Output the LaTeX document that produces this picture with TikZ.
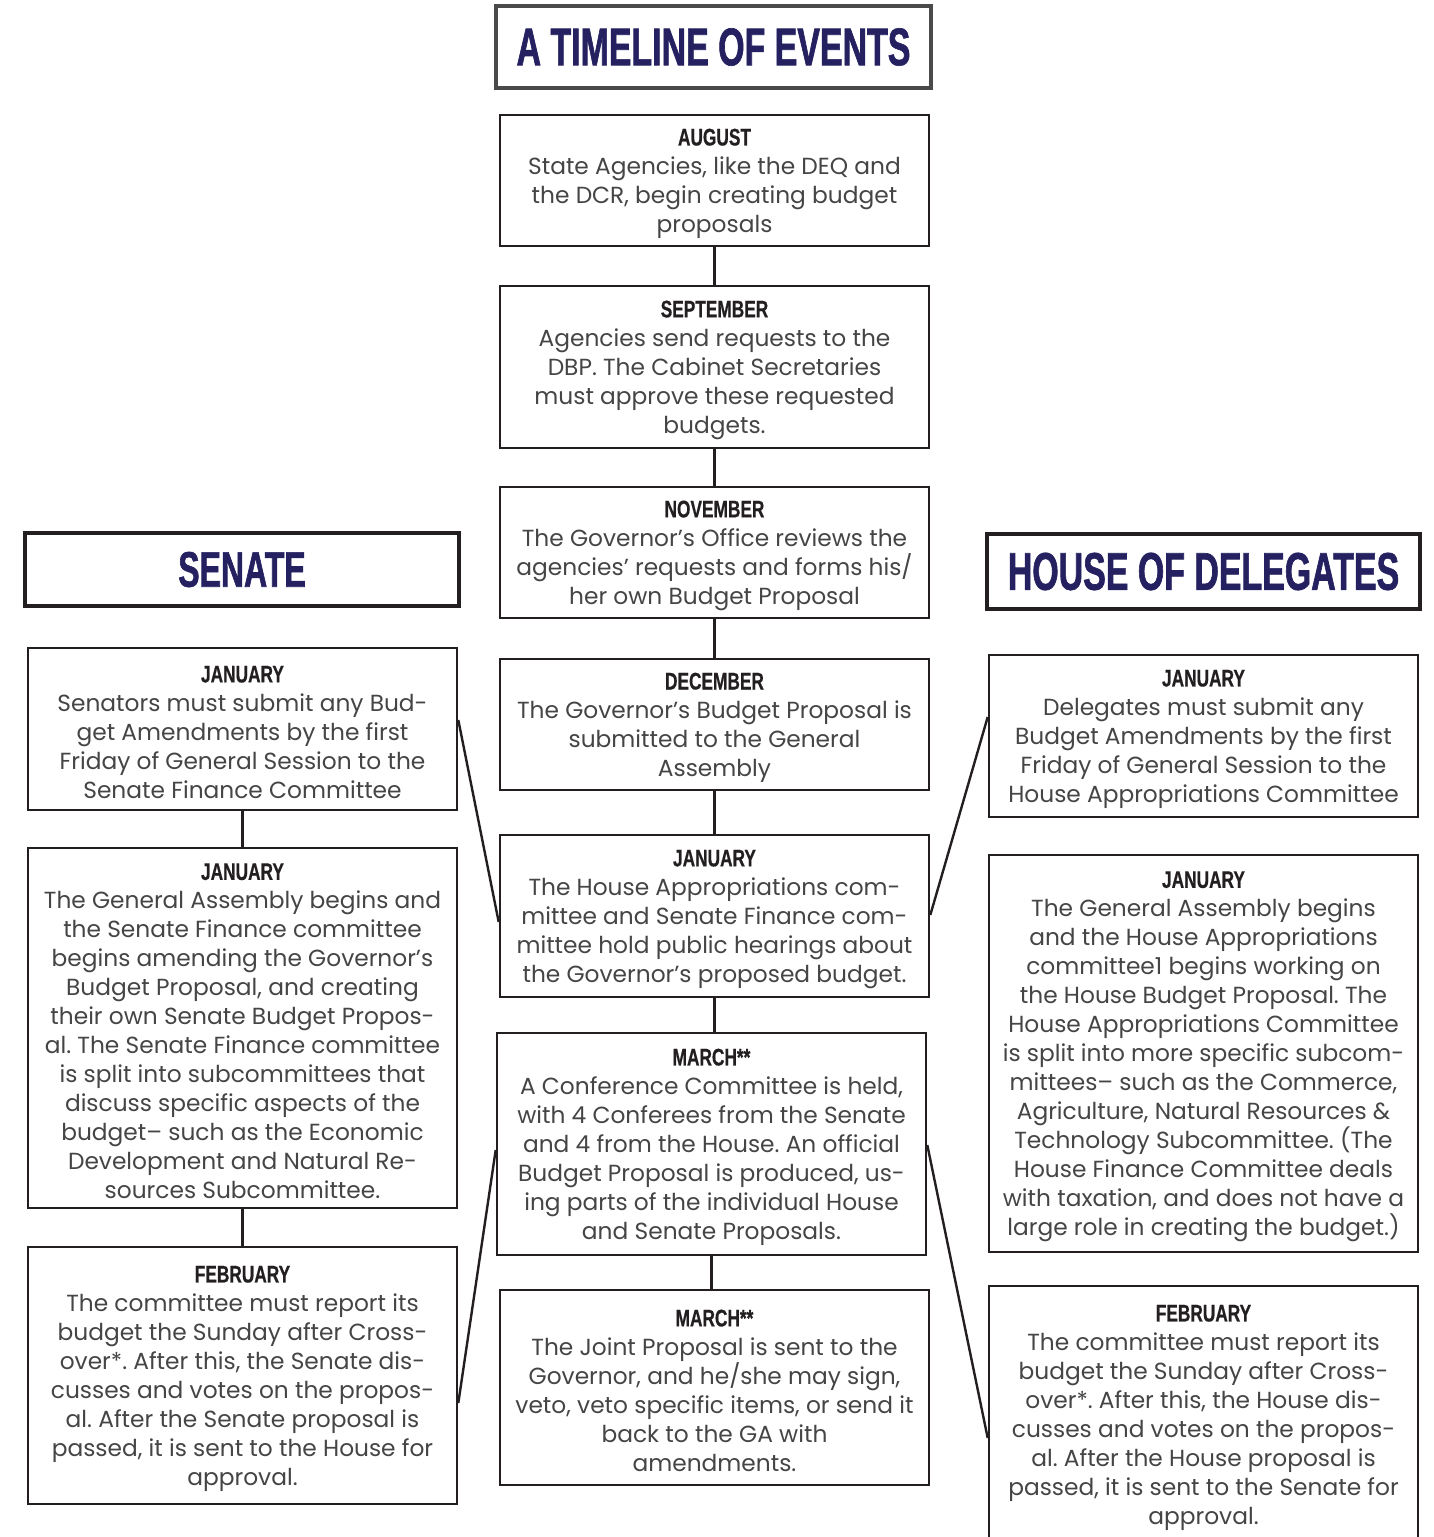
\documentclass[tikz,border=0pt]{standalone}
\usepackage{fontspec}
\setmainfont{Poppins}
\frenchspacing
\newfontfamily\monfont[FakeStretch=0.72,FakeBold=0.6]{Liberation Sans}
\newfontfamily\bigfont[FakeStretch=0.64,FakeBold=1.2]{Liberation Sans}
\definecolor{navy}{HTML}{252160}
\definecolor{ink}{HTML}{231F20}
\definecolor{bodygray}{HTML}{454545}
\definecolor{framegray}{HTML}{4A4A4A}
\newcommand\bxfont{\fontsize{23.3}{29}\selectfont}
\newcommand\monthlabel[1]{\rule{0pt}{23pt}{\fontsize{24}{29}\selectfont\monfont\bfseries\color{ink}#1}}
\tikzset{
  evbox/.style={draw=ink, line width=2.6pt, inner sep=0pt, minimum width=429pt,
    align=center, font=\bxfont, text=bodygray},
  headbox/.style={draw=ink, line width=4.5pt, inner sep=0pt, text=navy},
  link/.style={draw=ink, line width=2.4pt}
}
\begin{document}
\begin{tikzpicture}[x=1pt,y=-1pt]
\useasboundingbox (0,0) rectangle (1433,1537);
\clip (0,0) rectangle (1433,1537);
\fill[white] (0,0) rectangle (1433,1537);

% title
\node[headbox, draw=framegray, minimum width=435pt, minimum height=82pt,
  font=\fontsize{53}{60}\selectfont\bigfont\bfseries] (title) at (713.5,47) {A TIMELINE OF EVENTS};

% section headers
\node[headbox, minimum width=434pt, minimum height=73pt,
  font=\fontsize{50}{55}\selectfont\bigfont\bfseries] (senate) at (242,569.5) {SENATE};
\node[headbox, minimum width=433pt, minimum height=75pt,
  font=\fontsize{53}{60}\selectfont\bigfont\bfseries] (house) at (1203.5,571.5) {HOUSE OF DELEGATES};

% centre column
\node[evbox, minimum height=131pt] (aug) at (714.5,180.5) {\monthlabel{AUGUST}\\
State Agencies, like the DEQ and\\ the DCR, begin creating budget\\ proposals};
\node[evbox, minimum height=162pt] (sep) at (714.5,367) {\monthlabel{SEPTEMBER}\\
Agencies send requests to the\\ DBP. The Cabinet Secretaries\\ must approve these requested\\ budgets.};
\node[evbox, minimum height=131pt] (nov) at (714.5,552.5) {\monthlabel{NOVEMBER}\\
The Governor’s Office reviews the\\ agencies’ requests and forms his/\\ her own Budget Proposal};
\node[evbox, minimum height=131pt] (dec) at (714.5,724.5) {\monthlabel{DECEMBER}\\
The Governor’s Budget Proposal is\\ submitted to the General\\ Assembly};
\node[evbox, minimum height=162pt] (cjan) at (714.5,916) {\monthlabel{JANUARY}\\
The House Appropriations com-\\ mittee and Senate Finance com-\\ mittee hold public hearings about\\ the Governor’s proposed budget.};
\node[evbox, minimum height=222pt] (mar1) at (711.5,1144) {\monthlabel{MARCH**}\\
A Conference Committee is held,\\ with 4 Conferees from the Senate\\ and 4 from the House. An official\\ Budget Proposal is produced, us-\\ ing parts of the individual House\\ and Senate Proposals.};
\node[evbox, minimum height=195pt] (mar2) at (714.5,1387.5) {\monthlabel{MARCH**}\\
The Joint Proposal is sent to the\\ Governor, and he/she may sign,\\ veto, veto specific items, or send it\\ back to the GA with\\ amendments.};

% senate column
\node[evbox, minimum height=162pt] (sj1) at (242.5,729) {\monthlabel{JANUARY}\\
Senators must submit any Bud-\\ get Amendments by the first\\ Friday of General Session to the\\ Senate Finance Committee};
\node[evbox, minimum height=360pt] (sj2) at (242.5,1028) {\monthlabel{JANUARY}\\
The General Assembly begins and\\ the Senate Finance committee\\ begins amending the Governor’s\\ Budget Proposal, and creating\\ their own Senate Budget Propos-\\ al. The Senate Finance committee\\ is split into subcommittees that\\ discuss specific aspects of the\\ budget– such as the Economic\\ Development and Natural Re-\\ sources Subcommittee.};
\node[evbox, minimum height=257pt] (sfeb) at (242.5,1375.5) {\monthlabel{FEBRUARY}\\
The committee must report its\\ budget the Sunday after Cross-\\ over*. After this, the Senate dis-\\ cusses and votes on the propos-\\ al. After the Senate proposal is\\ passed, it is sent to the House for\\ approval.};

% house column
\node[evbox, minimum height=162pt] (hj1) at (1203.5,736) {\monthlabel{JANUARY}\\
Delegates must submit any\\ Budget Amendments by the first\\ Friday of General Session to the\\ House Appropriations Committee};
\node[evbox, minimum height=397pt] (hj2) at (1203.5,1053.5) {\monthlabel{JANUARY}\\
The General Assembly begins\\ and the House Appropriations\\ committee1 begins working on\\ the House Budget Proposal. The\\ House Appropriations Committee\\ is split into more specific subcom-\\ mittees– such as the Commerce,\\ Agriculture, Natural Resources \&\\ Technology Subcommittee. (The\\ House Finance Committee deals\\ with taxation, and does not have a\\ large role in creating the budget.)};
\node[evbox, minimum height=257pt] (hfeb) at (1203.5,1414.5) {\monthlabel{FEBRUARY}\\
The committee must report its\\ budget the Sunday after Cross-\\ over*. After this, the House dis-\\ cusses and votes on the propos-\\ al. After the House proposal is\\ passed, it is sent to the Senate for\\ approval.};

% vertical connectors
\draw[link] (aug.south) -- (sep.north);
\draw[link] (sep.south) -- (nov.north);
\draw[link] (nov.south) -- (dec.north);
\draw[link] (dec.south) -- (cjan.north);
\draw[link] (cjan.south) -- (cjan.south |- mar1.north);
\draw[link] (mar1.south) -- (mar1.south |- mar2.north);
\draw[link] (sj1.south) -- (sj2.north);
\draw[link] (sj2.south) -- (sfeb.north);

% diagonal connectors
\draw[link] ([yshift=9pt]sj1.east) -- ([yshift=-6pt]cjan.west);
\draw[link] ([yshift=19pt]hj1.west) -- ([yshift=1pt]cjan.east);
\draw[link] ([yshift=-6pt]mar1.west) -- ([yshift=-27.5pt]sfeb.east);
\draw[link] ([yshift=-1pt]mar1.east) -- ([yshift=-23.5pt]hfeb.west);
\end{tikzpicture}
\end{document}
